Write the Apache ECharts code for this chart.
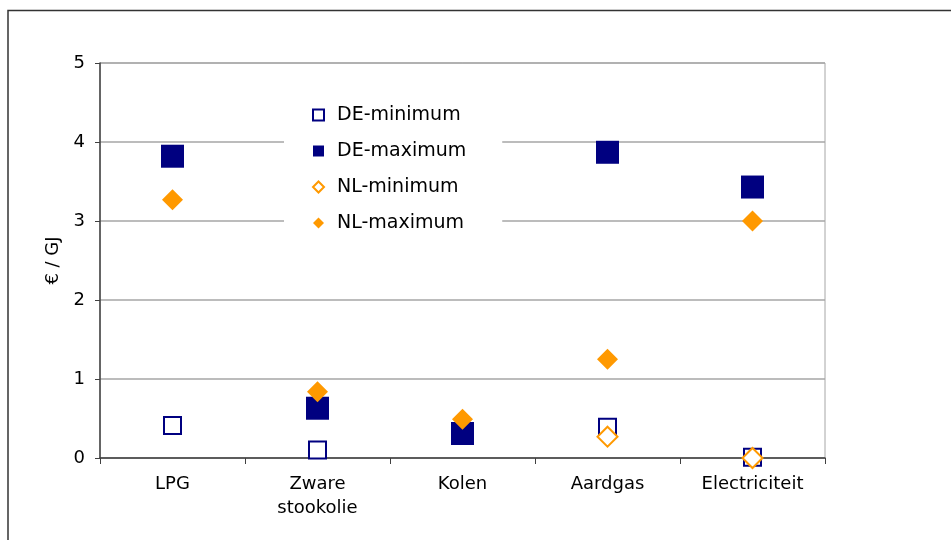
<!DOCTYPE html>
<html>
<head>
<meta charset="utf-8">
<script src="https://cdn.jsdelivr.net/npm/echarts@6/dist/echarts.min.js"></script>
<style>
    html, body { margin: 0; padding: 0; background: #fff; }
    #chart { width: 951px; height: 540px; }
</style>
</head>
<body>
<div id="chart"></div>
<script>
// categorieen en waarden (€ / GJ)
const categories = ['LPG', 'Zware\nstookolie', 'Kolen', 'Aardgas', 'Electriciteit']
const deMin = [0.41, 0.10, 0.31, 0.39, 0.01]
const deMax = [3.82, 0.63, 0.31, 3.87, 3.43]
const nlMin = [null, null, null, 0.27, 0.00]
const nlMax = [3.27, 0.84, 0.49, 1.25, 3.00]
const yTicks = [0, 1, 2, 3, 4, 5]

const navy = '#000080'
const orange = '#ff9900'
const font = 'DejaVu Sans'

const myChart = echarts.init(document.getElementById('chart'))

const option = {
    animation: false,
    textStyle: { fontFamily: font },
    graphic: [{
        type: 'rect',
        shape: { x: 8, y: 10.5, width: 1000, height: 600 },
        style: { fill: 'none', stroke: '#333', lineWidth: 1.5 },
        silent: true
    }],
    grid: {
        left: 100,
        right: 126,
        top: 63,
        bottom: 82,
        show: true,
        borderColor: '#a6a6a6',
        borderWidth: 1
    },
    legend: {
        orient: 'vertical',
        left: 284,
        top: 96,
        backgroundColor: '#fff',
        padding: [8, 36, 8, 28],
        itemGap: 14,
        itemWidth: 11,
        itemHeight: 11,
        textStyle: { fontFamily: font, fontSize: 19, color: '#000', lineHeight: 22, padding: [0, 0, 0, 8] },
        data: ['DE-minimum', 'DE-maximum', 'NL-minimum', 'NL-maximum']
    },
    xAxis: {
        type: 'category',
        data: categories,
        boundaryGap: true,
        axisLine: { lineStyle: { color: '#404040', width: 1.5 } },
        axisTick: { show: true, length: 6, lineStyle: { color: '#404040' } },
        axisLabel: { fontFamily: font, fontSize: 18, color: '#000', margin: 14, lineHeight: 24 }
    },
    yAxis: {
        type: 'value',
        min: yTicks[0],
        max: yTicks[yTicks.length - 1],
        interval: 1,
        name: '€ / GJ',
        nameLocation: 'middle',
        nameRotate: 90,
        nameGap: 37,
        nameTextStyle: { fontFamily: font, fontSize: 18, color: '#000' },
        axisLine: { show: true, lineStyle: { color: '#404040', width: 1.5 } },
        axisTick: { show: true, length: 5, lineStyle: { color: '#404040' } },
        axisLabel: { fontFamily: font, fontSize: 18, color: '#000', margin: 15 },
        splitLine: { show: true, lineStyle: { color: '#a6a6a6', width: 1.5 } }
    },
    series: [{
        name: 'DE-minimum',
        type: 'scatter',
        data: deMin,
        symbol: 'rect',
        symbolSize: 17,
        itemStyle: { color: '#fff', borderColor: navy, borderWidth: 2, opacity: 1 }
    }, {
        name: 'DE-maximum',
        type: 'scatter',
        data: deMax,
        symbol: 'rect',
        symbolSize: 23,
        itemStyle: { color: navy, opacity: 1 }
    }, {
        name: 'NL-minimum',
        type: 'scatter',
        data: nlMin,
        symbol: 'diamond',
        symbolSize: 20,
        itemStyle: { color: '#fff', borderColor: orange, borderWidth: 2, opacity: 1 }
    }, {
        name: 'NL-maximum',
        type: 'scatter',
        data: nlMax,
        symbol: 'diamond',
        symbolSize: 21,
        itemStyle: { color: orange, opacity: 1 }
    }]
}
myChart.setOption(option)
</script>
</body>
</html>
